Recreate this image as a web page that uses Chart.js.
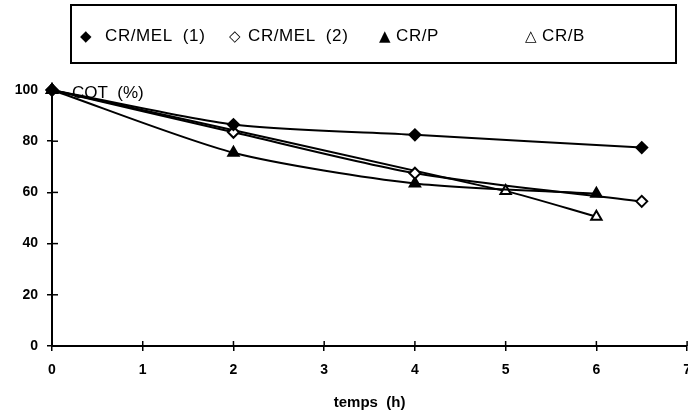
<!DOCTYPE html>
<html>
<head>
<meta charset="utf-8">
<style>
    html, body { margin: 0; padding: 0; background: #fff; overflow: hidden; }
    #wrap { position: relative; width: 688px; height: 412px; overflow: hidden; }
    #cotChart { position: absolute; left: 0; top: 0; }
    #legendBox {
        position: absolute; left: 70px; top: 4px; width: 607px; height: 60px;
        border: 2px solid #000; box-sizing: border-box;
        font-family: "Liberation Sans", Arial, sans-serif; font-size: 17px; color: #000;
    }
    #legendBox span { position: absolute; white-space: pre; line-height: 20px; top: 20px; }
    #legendBox span.mark { font-family: "DejaVu Sans", sans-serif; font-size: 15px; }
    #legendBox span.txt { letter-spacing: 0.6px; }
</style>
</head>
<body>
<div id="wrap">
    <canvas id="cotChart" width="702" height="412"></canvas>
    <div id="legendBox"></div>
</div>

<script src="https://cdn.jsdelivr.net/npm/chart.js"></script>
<script>
    // series (temps en h, COT en %)
    const seriesLabels = ['CR/MEL  (1)', 'CR/MEL  (2)', 'CR/P', 'CR/B'];
    const timesMel1 = [0, 2, 4, 6.5];
    const cotMel1 = [100, 86.5, 82.5, 77.5];
    const timesMel2 = [0, 2, 4, 6.5];
    const cotMel2 = [100, 83.5, 67.5, 56.5];
    const timesP = [0, 2, 4, 6];
    const cotP = [100, 75.5, 63.5, 59.5];
    const timesB = [0, 5, 6];
    const cotB = [100, 60.5, 50.5];
    const xTicks = [0, 1, 2, 3, 4, 5, 6, 7];
    const yTicks = [0, 20, 40, 60, 80, 100];

    function toPoints(xs, ys) {
        return xs.map((x, i) => ({ x: x, y: ys[i] }));
    }

    // legend (HTML, irregular spacing like the original)
    const legendMarks = ['\u25C6', '\u25C7', '\u25B2', '\u25B3'];
    const markX = [8, 157, 307, 453];
    const textX = [33, 176, 324, 470];
    const legendBox = document.getElementById('legendBox');
    seriesLabels.forEach((lab, i) => {
        const m = document.createElement('span');
        m.className = 'mark';
        m.style.left = markX[i] + 'px';
        m.textContent = legendMarks[i];
        legendBox.appendChild(m);
        const t = document.createElement('span');
        t.className = 'txt';
        t.style.left = textX[i] + 'px';
        t.textContent = lab;
        legendBox.appendChild(t);
    });

    // cross ticks + "COT (%)" label
    const axisDecor = {
        id: 'axisDecor',
        afterDraw(chart) {
            const c = chart.ctx;
            const xs = chart.scales.x, ys = chart.scales.y;
            c.save();
            c.strokeStyle = '#000';
            c.lineWidth = 1.5;
            yTicks.forEach(v => {
                const py = ys.getPixelForValue(v);
                c.beginPath(); c.moveTo(xs.left, py); c.lineTo(xs.left + 6, py); c.stroke();
            });
            xTicks.forEach(v => {
                const px = xs.getPixelForValue(v);
                c.beginPath(); c.moveTo(px, ys.bottom); c.lineTo(px, ys.bottom - 5); c.stroke();
            });
            c.fillStyle = '#000';
            c.font = '17px "Liberation Sans", Arial, sans-serif';
            c.textBaseline = 'middle';
            c.fillText('COT  (%)', xs.left + 20, ys.top + 3);
            c.restore();
        }
    };

    const tickFont = { family: '"Liberation Sans", Arial, sans-serif', size: 14, weight: 'bold' };

    function ds(label, xs, ys, style, filled) {
        return {
            label: label,
            data: toPoints(xs, ys),
            borderColor: '#000',
            borderWidth: 2,
            tension: 0.25,
            pointStyle: style,
            pointRadius: style === 'triangle' ? 6 : 5.5,
            pointBorderWidth: 2,
            pointBackgroundColor: filled ? '#000' : '#fff',
            pointBorderColor: '#000',
            fill: false,
            clip: false
        };
    }

    new Chart(document.getElementById('cotChart').getContext('2d'), {
        type: 'line',
        data: {
            datasets: [
                ds(seriesLabels[0], timesMel1, cotMel1, 'rectRot', true),
                ds(seriesLabels[1], timesMel2, cotMel2, 'rectRot', false),
                ds(seriesLabels[2], timesP, cotP, 'triangle', true),
                ds(seriesLabels[3], timesB, cotB, 'triangle', false)
            ]
        },
        plugins: [axisDecor],
        options: {
            responsive: false,
            animation: false,
            layout: { padding: { top: 90, left: 0, right: 13, bottom: 0 } },
            plugins: { legend: { display: false }, tooltip: { enabled: false } },
            scales: {
                x: {
                    type: 'linear',
                    min: 0, max: 7,
                    afterFit(scale) { scale.height = 66; },
                    afterBuildTicks(scale) { scale.ticks = xTicks.map(v => ({ value: v })); },
                    grid: { drawOnChartArea: false, color: '#000', lineWidth: 1.5, tickLength: 5 },
                    border: { color: '#000', width: 2 },
                    ticks: { color: '#000', font: tickFont, padding: 11 },
                    title: {
                        display: true, text: 'temps  (h)', color: '#000',
                        font: { family: '"Liberation Sans", Arial, sans-serif', size: 15, weight: 'bold' },
                        padding: { top: 5, bottom: 0 }
                    }
                },
                y: {
                    min: 0, max: 100,
                    afterFit(scale) { scale.width = 52; },
                    afterBuildTicks(scale) { scale.ticks = yTicks.map(v => ({ value: v })); },
                    grid: { drawOnChartArea: false, color: '#000', lineWidth: 1.5, tickLength: 5 },
                    border: { color: '#000', width: 2 },
                    ticks: { color: '#000', font: tickFont, padding: 9 }
                }
            }
        }
    });
</script>
</body>
</html>
